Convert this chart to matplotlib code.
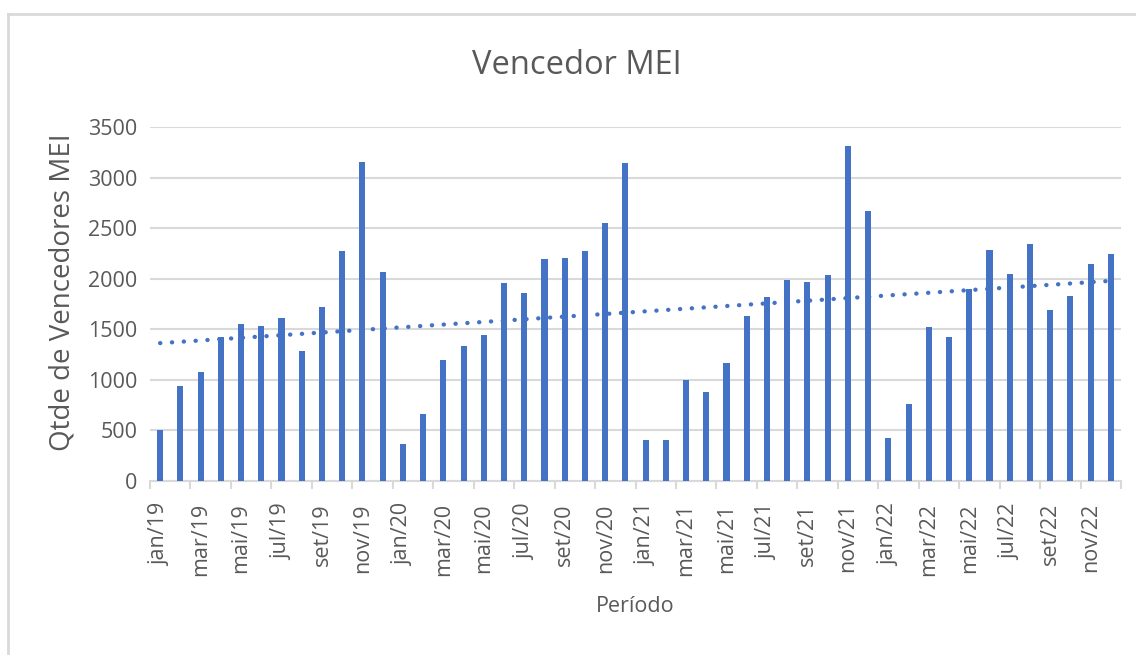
import numpy as np
import matplotlib
matplotlib.use("Agg")
import matplotlib.pyplot as plt
from matplotlib.lines import Line2D

months = ["jan", "fev", "mar", "abr", "mai", "jun", "jul", "ago", "set", "out", "nov", "dez"]
years = ["19", "20", "21", "22"]
periods = [f"{m}/{y}" for y in years for m in months]

values = [500, 940, 1080, 1420, 1550, 1535, 1610, 1290, 1720, 2275, 3150, 2070,
          370, 665, 1195, 1335, 1440, 1960, 1860, 2190, 2200, 2270, 2555, 3140,
          410, 410, 995, 880, 1165, 1635, 1820, 1990, 1965, 2035, 3310, 2670,
          425, 765, 1520, 1420, 1900, 2285, 2045, 2340, 1690, 1830, 2145, 2245]

title = "Vencedor MEI"
ylabel = "Qtde de Vencedores MEI"
xlabel = "Período"
yticks = [0, 500, 1000, 1500, 2000, 2500, 3000, 3500]

W, H = 1136, 655
fig = plt.figure(figsize=(W / 100, H / 100), dpi=100)
font = "Open Sans"
txt = "#595959"

# chart border (light gray frame)
fig.add_artist(Line2D([7.5 / W, 7.5 / W], [0, 1 - 14 / H], transform=fig.transFigure, color="#D9D9D9", lw=2))
fig.add_artist(Line2D([7.5 / W, 1], [1 - 14 / H, 1 - 14 / H], transform=fig.transFigure, color="#D9D9D9", lw=2))

left, right, top, bottom = 150, 1121, 127, 481
ax = fig.add_axes([left / W, 1 - bottom / H, (right - left) / W, (bottom - top) / H])

x = np.arange(len(values))
ax.bar(x, values, width=0.3, color="#4472C4", zorder=3)

# linear trendline
coef = np.polyfit(x, values, 1)
ax.plot(x, np.polyval(coef, x), linestyle=(0, (0.05, 2.7)), color="#4472C4", lw=3.1, zorder=4,
        dash_capstyle="round")

ax.set_xlim(-0.5, len(values) - 0.5)
ax.set_ylim(0, 3500)
ax.set_yticks(yticks)
ax.set_yticklabels([str(v) for v in yticks], fontsize=15.5, color=txt, family=font)
ax.yaxis.grid(True, color="#D9D9D9", lw=1.5, zorder=0)
ax.tick_params(axis="y", length=0, pad=9)

ax.set_xticks(x[::2])
ax.set_xticklabels(periods[::2], rotation=90, fontsize=15.5, color=txt, family=font)
ax.set_xticks(np.arange(-0.5, len(values), 2), minor=True)
ax.tick_params(axis="x", which="major", length=0, pad=16)
ax.tick_params(axis="x", which="minor", length=6, color="#D9D9D9", width=1.5)

for s in ["top", "right", "left"]:
    ax.spines[s].set_visible(False)
ax.spines["bottom"].set_color("#D9D9D9")
ax.spines["bottom"].set_linewidth(1.5)

fig.text(577 / W, 1 - 66 / H, title, ha="center", va="center", fontsize=23.5, color=txt, family=font)
fig.text(63 / W, 1 - 292 / H, ylabel, ha="center", va="center", rotation=90, fontsize=20, color=txt, family=font)
fig.text(635 / W, 1 - 607 / H, xlabel, ha="center", va="center", fontsize=15.5, color=txt, family=font)

fig.savefig("out.png", dpi=100, facecolor="white")
